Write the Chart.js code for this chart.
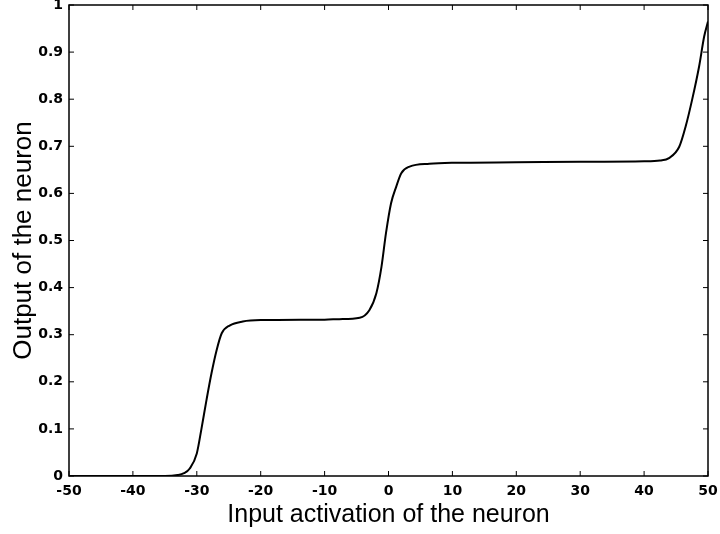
<!DOCTYPE html>
<html>
<head>
<meta charset="utf-8">
<script src="https://cdn.jsdelivr.net/npm/chart.js@4/dist/chart.umd.min.js"></script>
<style>
  body { margin: 0; background: #fff; }
  canvas { display: block; }
</style>
</head>
<body>
<canvas id="neuronChart" width="720" height="534"></canvas>
<script>
// values
const inputActivation = [-50, -40, -35, -33, -32, -31.1, -30, -29.3, -28.5, -27.7, -26.9, -26.1, -24.8, -22.8, -20, -10, -7.7, -4.5, -3, -1.9, -1.1, -0.4, 0.4, 1.2, 2, 3.3, 6.4, 10, 20, 30, 40, 42.5, 43.9, 45.5, 46.5, 47.5, 48.6, 49.4, 50];
const neuronOutput = [0, 0, 0, 0.002, 0.006, 0.016, 0.048, 0.098, 0.16, 0.218, 0.267, 0.303, 0.32, 0.328, 0.331, 0.332, 0.333, 0.336, 0.352, 0.388, 0.444, 0.515, 0.579, 0.614, 0.643, 0.657, 0.663, 0.665, 0.666, 0.667, 0.668, 0.670, 0.675, 0.699, 0.742, 0.798, 0.869, 0.933, 0.965];

const xTicks = [-50, -40, -30, -20, -10, 0, 10, 20, 30, 40, 50];
const yTicks = [0, 0.1, 0.2, 0.3, 0.4, 0.5, 0.6, 0.7, 0.8, 0.9, 1];
const yTickLabels = ['0', '0.1', '0.2', '0.3', '0.4', '0.5', '0.6', '0.7', '0.8', '0.9', '1'];

const points = inputActivation.map((x, i) => ({ x: x, y: neuronOutput[i] }));

const tickFont = { family: 'DejaVu Sans, sans-serif', size: 14, weight: 'bold' };
const titleFamily = 'Liberation Sans, Arial, sans-serif';

// box around the plot and MATLAB style ticks pointing inwards
const boxPlugin = {
    id: 'boxTicks',
    afterDraw(chart) {
        const ctx = chart.ctx;
        const a = chart.chartArea;
        const xs = chart.scales.x, ys = chart.scales.y;
        const len = 5;
        ctx.save();
        ctx.strokeStyle = '#000';
        ctx.lineWidth = 1.5;
        ctx.strokeRect(a.left, a.top, a.right - a.left, a.bottom - a.top);
        ctx.lineWidth = 1;
        ctx.beginPath();
        xTicks.forEach(v => {
            const px = xs.getPixelForValue(v);
            ctx.moveTo(px, a.bottom); ctx.lineTo(px, a.bottom - len);
            ctx.moveTo(px, a.top); ctx.lineTo(px, a.top + len);
        });
        yTicks.forEach(v => {
            const py = ys.getPixelForValue(v);
            ctx.moveTo(a.left, py); ctx.lineTo(a.left + len, py);
            ctx.moveTo(a.right, py); ctx.lineTo(a.right - len, py);
        });
        ctx.stroke();
        ctx.restore();
    }
};

new Chart(document.getElementById('neuronChart'), {
    type: 'line',
    data: {
        datasets: [{
            data: points,
            borderColor: '#000',
            borderWidth: 2,
            pointRadius: 0,
            fill: false,
            cubicInterpolationMode: 'monotone'
        }]
    },
    options: {
        responsive: false,
        animation: false,
        devicePixelRatio: 1,
        layout: { padding: { top: 5, right: 12, left: 0, bottom: 0 } },
        plugins: { legend: { display: false }, tooltip: { enabled: false } },
        scales: {
            x: {
                type: 'linear',
                min: -50,
                max: 50,
                afterFit: s => { s.height = 58; s.paddingLeft = 0; s.paddingRight = 0; },
                afterBuildTicks: s => { s.ticks = xTicks.map(v => ({ value: v })); },
                grid: { display: false, drawTicks: false },
                border: { display: false },
                ticks: {
                    color: '#000',
                    padding: 7,
                    maxRotation: 0,
                    font: tickFont,
                    callback: v => String(v)
                },
                title: {
                    display: true,
                    text: 'Input activation of the neuron',
                    color: '#000',
                    padding: { top: 0, bottom: 4 },
                    font: { family: titleFamily, size: 25 }
                }
            },
            y: {
                min: 0,
                max: 1,
                afterFit: s => { s.width = 69; s.paddingTop = 0; s.paddingBottom = 0; },
                afterBuildTicks: s => { s.ticks = yTicks.map(v => ({ value: v })); },
                grid: { display: false, drawTicks: false },
                border: { display: false },
                ticks: {
                    color: '#000',
                    padding: 6,
                    font: tickFont,
                    callback: (v, i) => yTickLabels[i]
                },
                title: {
                    display: true,
                    text: 'Output of the neuron',
                    color: '#000',
                    padding: { top: 8, bottom: 0 },
                    font: { family: titleFamily, size: 26 }
                }
            }
        }
    },
    plugins: [boxPlugin]
});
</script>
</body>
</html>
